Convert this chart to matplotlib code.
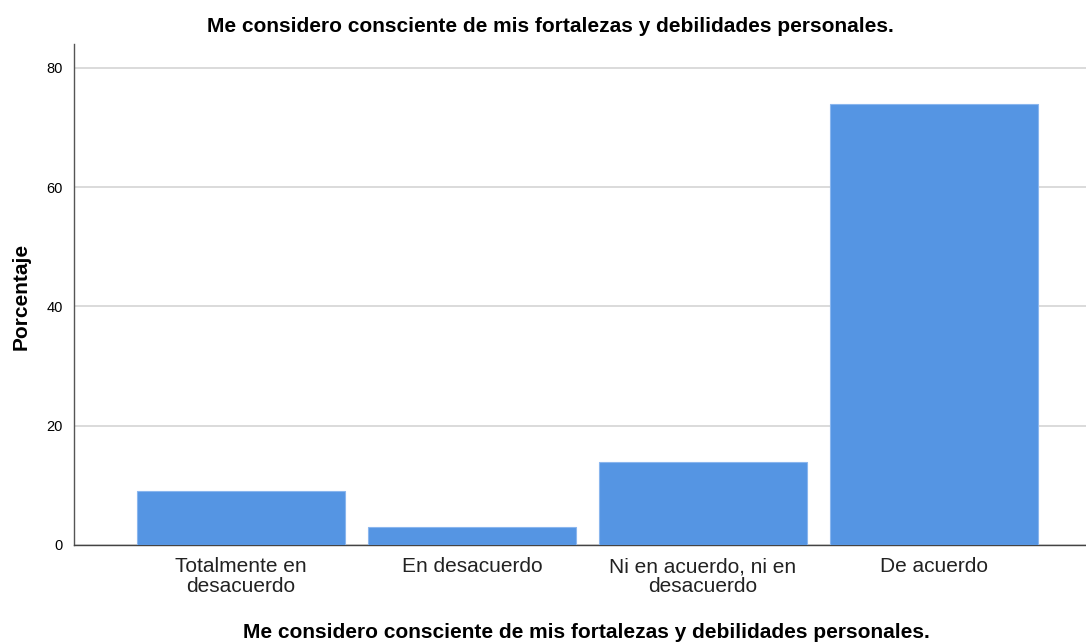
import matplotlib.pyplot as plt

# Datos (porcentajes)
categorias = ["Totalmente en\ndesacuerdo", "En desacuerdo",
              "Ni en acuerdo, ni en\ndesacuerdo", "De acuerdo"]
porcentajes = [9.0, 3.0, 14.0, 74.0]
ticks_y = [0, 20, 40, 60, 80]

titulo = "Me considero consciente de mis fortalezas y debilidades personales."

plt.rcParams['font.family'] = ['Liberation Sans', 'DejaVu Sans']

fig = plt.figure(figsize=(10.86, 6.42), dpi=100)
ax = fig.add_axes([74 / 1086, 1 - 545 / 642, 1012 / 1086, 501 / 642])

x = range(len(categorias))
ax.bar(x, porcentajes, width=0.9, color='#5595e3', edgecolor='#8ab6ee',
       linewidth=0.8, zorder=3)

ax.set_xlim(-0.723, 3.66)
ax.set_ylim(0, 84)
ax.set_yticks(ticks_y)
ax.set_xticks(list(x))
ax.set_xticklabels(categorias, fontsize=15, linespacing=1.02, color='#222222')
ax.tick_params(axis='y', labelsize=10.5, length=0, pad=8)
ax.tick_params(axis='x', length=0, pad=9)

ax.grid(True, axis='y', color='#d4d4d4', linewidth=1.2, zorder=0)
for lado in ['top', 'right']:
    ax.spines[lado].set_visible(False)
ax.spines['left'].set_color('#555555')
ax.spines['bottom'].set_color('#444444')
ax.spines['left'].set_linewidth(1.0)
ax.spines['bottom'].set_linewidth(1.0)

fig.text(550 / 1086, 1 - 27 / 642, titulo, ha='center', va='center',
         fontsize=15, fontweight='bold')
fig.text(586 / 1086, 1 - 632 / 642, titulo, ha='center', va='center',
         fontsize=15, fontweight='bold')
fig.text(21 / 1086, 1 - 296 / 642, "Porcentaje", ha='center', va='center',
         rotation=90, fontsize=15, fontweight='bold')

fig.savefig("out.png", dpi=100)
